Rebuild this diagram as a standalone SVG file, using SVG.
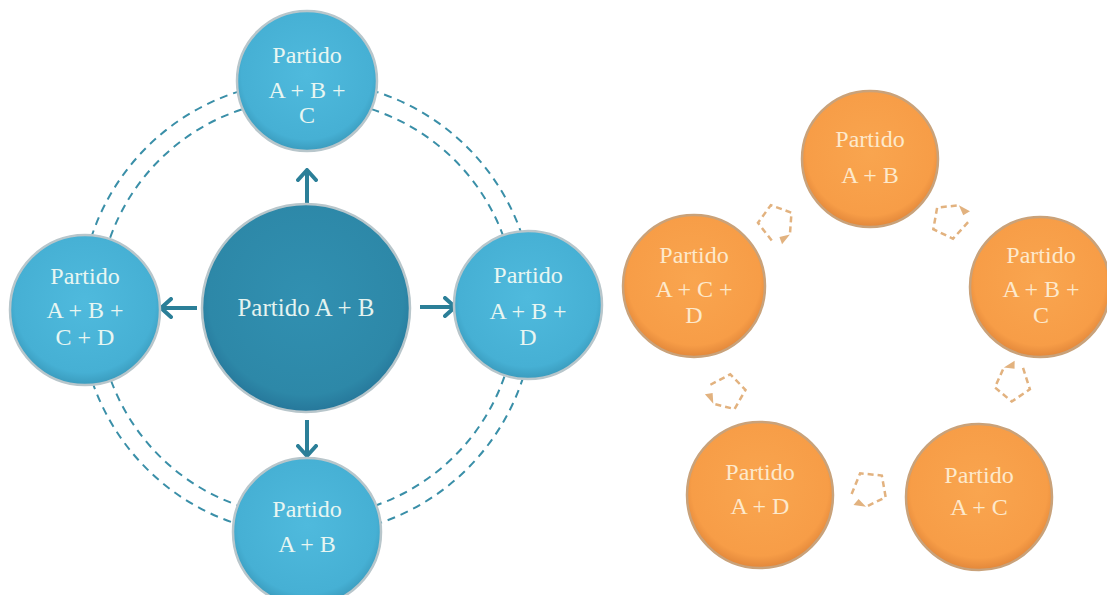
<svg xmlns="http://www.w3.org/2000/svg" width="1107" height="595" viewBox="0 0 1107 595">
<defs>
<radialGradient id="gBlue" cx="50%" cy="45%" r="55%">
<stop offset="0" stop-color="#4fbadd"/>
<stop offset="0.85" stop-color="#46b0d4"/>
<stop offset="1" stop-color="#3a9bbd"/>
</radialGradient>
<radialGradient id="gDark" cx="50%" cy="45%" r="55%">
<stop offset="0" stop-color="#3190b1"/>
<stop offset="0.85" stop-color="#2d88a8"/>
<stop offset="1" stop-color="#26779a"/>
</radialGradient>
<radialGradient id="gOrange" cx="50%" cy="45%" r="55%">
<stop offset="0" stop-color="#f9a54f"/>
<stop offset="0.85" stop-color="#f79d47"/>
<stop offset="1" stop-color="#e2873a"/>
</radialGradient>
<marker id="chev" viewBox="0 0 14 22" refX="12" refY="11" markerWidth="14" markerHeight="22" markerUnits="userSpaceOnUse" orient="auto">
<path d="M2,2 L12,11 L2,20" fill="none" stroke="#2b7f98" stroke-width="4" stroke-linecap="round" stroke-linejoin="round"/>
</marker>
<g id="cyc">
<path d="M-2,-18 L17,-6 L11,15 L-11,15 L-17,-6" fill="none" stroke="#e2b27f" stroke-width="2.5" stroke-dasharray="6 4"/>
<path d="M-17,-6 L-13,-18 L-8,-12 Z" fill="#e2b27f"/>
</g>
</defs>
<style>
.arc{fill:none;stroke:#3a8fa8;stroke-width:2;stroke-dasharray:8 6}
.arr{fill:none;stroke:#2b7f98;stroke-width:4;marker-end:url(#chev)}
.nb{fill:url(#gBlue);stroke:#b8c6cb;stroke-width:2.5}
.nd{fill:url(#gDark);stroke:#b8c6cb;stroke-width:2.5}
.no{fill:url(#gOrange);stroke:#c9a27a;stroke-width:2.5}
text{font-family:"Liberation Serif","Times New Roman",serif;text-anchor:middle}
.tb{font-size:24px;fill:#e8f6f2}
.tc{font-size:25px;fill:#e4f3ef}
.to{font-size:24px;fill:#fde9cc}
</style>
<rect width="1107" height="595" fill="#ffffff"/>
<g id="connectors">
<circle class="arc" cx="307" cy="308" r="227"/>
<circle class="arc" cx="307" cy="308" r="209"/>
<line class="arr" x1="307" y1="203" x2="307" y2="170"/>
<line class="arr" x1="307" y1="420" x2="307" y2="456"/>
<line class="arr" x1="197" y1="308" x2="161" y2="308"/>
<line class="arr" x1="420" y1="307" x2="455" y2="307"/>
<use href="#cyc" transform="translate(776,223) rotate(200)"/>
<use href="#cyc" transform="translate(950,221) rotate(100)"/>
<use href="#cyc" transform="translate(727,392) rotate(-60)"/>
<use href="#cyc" transform="translate(1013,383) rotate(40)"/>
<use href="#cyc" transform="translate(869,489) rotate(-100)"/>
</g>
<g id="center">
<circle class="nd" cx="306" cy="308" r="104"/>
<text class="tc" x="306" y="316">Partido A + B</text>
</g>
<g id="blue-top">
<circle class="nb" cx="307" cy="81" r="70"/>
<text class="tb" x="307" y="63">Partido</text>
<text class="tb" x="307" y="98">A + B +</text>
<text class="tb" x="307" y="123">C</text>
</g>
<g id="blue-left">
<circle class="nb" cx="85" cy="310" r="75"/>
<text class="tb" x="85" y="284">Partido</text>
<text class="tb" x="85" y="318">A + B +</text>
<text class="tb" x="85" y="345">C + D</text>
</g>
<g id="blue-right">
<circle class="nb" cx="528" cy="305" r="74"/>
<text class="tb" x="528" y="283">Partido</text>
<text class="tb" x="528" y="319">A + B +</text>
<text class="tb" x="528" y="345">D</text>
</g>
<g id="blue-bottom">
<circle class="nb" cx="307" cy="532" r="74"/>
<text class="tb" x="307" y="517">Partido</text>
<text class="tb" x="307" y="552">A + B</text>
</g>
<g id="orange-top">
<circle class="no" cx="870" cy="159" r="68"/>
<text class="to" x="870" y="147">Partido</text>
<text class="to" x="870" y="183">A + B</text>
</g>
<g id="orange-left">
<circle class="no" cx="694" cy="286" r="71"/>
<text class="to" x="694" y="263">Partido</text>
<text class="to" x="694" y="297">A + C +</text>
<text class="to" x="694" y="323">D</text>
</g>
<g id="orange-right">
<circle class="no" cx="1040" cy="287" r="70"/>
<text class="to" x="1041" y="263">Partido</text>
<text class="to" x="1041" y="297">A + B +</text>
<text class="to" x="1041" y="323">C</text>
</g>
<g id="orange-bottom-left">
<circle class="no" cx="760" cy="495" r="73"/>
<text class="to" x="760" y="480">Partido</text>
<text class="to" x="760" y="514">A + D</text>
</g>
<g id="orange-bottom-right">
<circle class="no" cx="979" cy="497" r="73"/>
<text class="to" x="979" y="483">Partido</text>
<text class="to" x="979" y="515">A + C</text>
</g>
</svg>
